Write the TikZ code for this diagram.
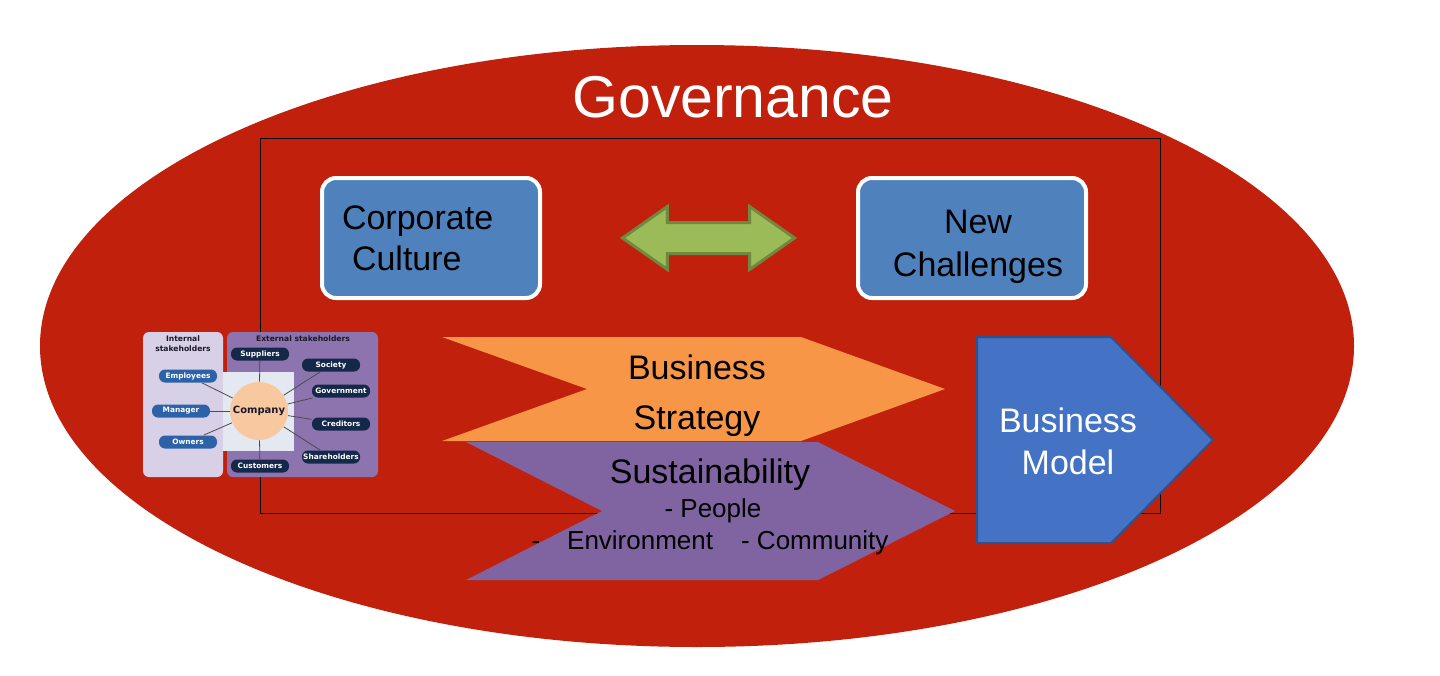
\documentclass[tikz,border=0pt]{standalone}
\usepackage{fontspec}
\setmainfont{Liberation Sans}
\newfontfamily\panelfont{DejaVu Sans}
\usepackage{tikz}
\usetikzlibrary{shapes.geometric, shapes.arrows, calc}

\definecolor{govred}{RGB}{192,32,12}
\definecolor{boxblue}{RGB}{79,129,189}
\definecolor{arrowgreen}{RGB}{155,187,89}
\definecolor{arrowedge}{RGB}{113,137,63}
\definecolor{stratorange}{RGB}{247,150,70}
\definecolor{sustpurple}{RGB}{128,100,162}
\definecolor{modelblue}{RGB}{68,114,196}
\definecolor{modeledge}{RGB}{47,82,143}
\definecolor{intpanel}{RGB}{216,208,230}
\definecolor{extpanel}{RGB}{142,116,174}
\definecolor{hubgray}{RGB}{228,232,241}
\definecolor{companypeach}{RGB}{248,200,160}
\definecolor{intpill}{RGB}{45,98,168}
\definecolor{extpill}{RGB}{20,40,74}
\definecolor{paneltext}{RGB}{25,25,40}

\newcommand{\fsize}[2]{\fontsize{#1}{#2}\selectfont}

\begin{document}
\begin{tikzpicture}[x=0.5pt, y=-0.5pt,
    topic/.style={rectangle, rounded corners=7pt, draw=white, line width=2pt, fill=boxblue, minimum height=60pt, font=\fsize{17}{20.5}},
    pill/.style={rectangle, rounded corners=3pt, minimum width=29pt, minimum height=6.5pt, inner sep=0pt, text=white, font=\panelfont\bfseries\fsize{3.7}{4}},
    spoke/.style={draw=gray!60!black, line width=0.4pt}]

  \useasboundingbox (0,0) rectangle (1440,675);
  \fill[white] (0,0) rectangle (1440,675);

  % governance ellipse and frame
  \fill[govred] (697,346) ellipse [x radius=657, y radius=301];
  \node[text=white, font=\fsize{29.5}{32}] (governance title) at (733,97) {Governance};
  \draw[black, line width=0.5pt] (260,138) rectangle (1160,513);

  \node[topic, text width=89pt, inner xsep=10pt, align=left] (culture node) at (431,238) {Corporate\\\hspace*{5pt}Culture};
  \node[topic, minimum width=114pt] (challenge node) at (972,238) {};
  \node[align=center, font=\fsize{17}{21.5}] (challenge text) at ($(challenge node.center)+(6,9)$) {New\\Challenges};
  \node[double arrow, fill=arrowgreen, draw=arrowedge, line width=1.5pt, minimum height=86pt, minimum width=31pt,
        double arrow head extend=8pt, double arrow tip angle=70, inner xsep=0pt, inner ysep=7pt] (link arrow) at (708.5,238) {};

  % chevrons
  \fill[stratorange] (442,337) -- (801,337) -- (945,389) -- (801,441) -- (442,441) -- (587,389) -- cycle;
  \node[font=\fsize{17}{25}, align=center] (strategy node) at (697,396) {Business\\Strategy};
  \fill[sustpurple] (466,442) -- (818,442) -- (955,511) -- (818,580) -- (466,580) -- (602,511) -- cycle;
  \node[font=\fsize{17}{20}] (sust node) at (710,475) {Sustainability};
  \node[font=\fsize{13}{16}] (people node) at (713,511) {- People};
  \node[font=\fsize{13}{16}] (reach node) at (710,543) {-\hspace{13.5pt}Environment\hspace{14pt}- Community};

  \filldraw[fill=modelblue, draw=modeledge, line width=1pt] (977,337) -- (1111,337) -- (1213,440) -- (1111,543) -- (977,543) -- cycle;
  \node[text=white, align=center, font=\fsize{17}{21}] (model node) at (1068,441) {Business\\Model};

  % stakeholder panel
  \node[rectangle, rounded corners=3pt, fill=intpanel, minimum width=40pt, minimum height=72.5pt] (internal panel) at (183,404.5) {};
  \node[rectangle, rounded corners=3pt, fill=extpanel, minimum width=75.5pt, minimum height=72.5pt] (external panel) at (302.5,404.5) {};
  \node[rectangle, fill=hubgray, minimum width=35.5pt, minimum height=39.5pt] (hub) at (258.5,411.5) {};
  \node[text=paneltext, align=center, inner sep=0pt, font=\panelfont\bfseries\fsize{3.8}{5}] (internal title) at (183,344) {Internal\\stakeholders};
  \node[text=paneltext, inner sep=0pt, font=\panelfont\bfseries\fsize{3.8}{5}] (external title) at (303,339) {External stakeholders};
  \node[circle, fill=companypeach, minimum size=29pt, inner sep=0pt, text=paneltext, font=\panelfont\bfseries\fsize{5}{6}] (company) at (259,411) {Company};

  \foreach \who/\px/\py/\tone in {Employees/188/376/intpill, Manager/181/411/intpill, Owners/188/442/intpill,
      Suppliers/260/354/extpill, Society/331/365/extpill, Government/341/391/extpill,
      Creditors/341/424/extpill, Shareholders/331/457/extpill, Customers/260/466/extpill}{
    \node[pill, fill=\tone] (\who) at (\px,\py) {\who};
    \draw[spoke] (\who) -- (company);
  }

\end{tikzpicture}
\end{document}
